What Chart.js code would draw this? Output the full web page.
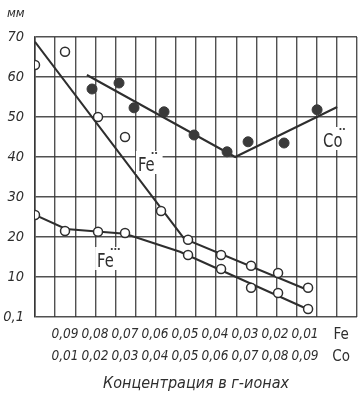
<!DOCTYPE html>
<html>
<head>
<meta charset="utf-8">
<script src="https://cdn.jsdelivr.net/npm/chart.js@4.4.0/dist/chart.umd.min.js"></script>
<style>
  body { margin: 0; background: #fff; }
  #wrap { width: 363px; height: 405px; }
</style>
</head>
<body>
<div id="wrap"><canvas id="chart" width="363" height="405"></canvas></div>
<script>
// x = Co concentration (g-ion), Fe = 0.1 - Co ; y = wave height, mm
const feIIx = [0, 0.010, 0.021, 0.030, 0.042, 0.051, 0.062, 0.072, 0.081, 0.091];
const feIIy = [63, 66.3, 50, 45, 26.5, 19.3, 15.5, 12.8, 11, 7.3];

const feIIIx = [0, 0.010, 0.021, 0.030, 0.051, 0.062, 0.072, 0.081, 0.091];
const feIIIy = [25.5, 21.5, 21.3, 21, 15.5, 12, 7.3, 6, 2];

const coIIx = [0.019, 0.028, 0.033, 0.043, 0.053, 0.064, 0.071, 0.083, 0.094];
const coIIy = [57, 58.5, 52.3, 51.3, 45.5, 41.3, 43.8, 43.5, 51.8];

// hand drawn trend lines
const feIILineX = [0, 0.0497, 0.0917];
const feIILineY = [68.8, 19.6, 6.5];
const feIIILineX = [0, 0.0103, 0.030, 0.0483, 0.0907];
const feIIILineY = [25.5, 22, 20.8, 16.3, 2];
const coIILineX = [0.0173, 0.0667, 0.1007];
const coIILineY = [60.5, 40, 52.5];

// axis labels
const tickCo = [0.01, 0.02, 0.03, 0.04, 0.05, 0.06, 0.07, 0.08, 0.09];
const feLabels = ["0,09", "0,08", "0,07", "0,06", "0,05", "0,04", "0,03", "0,02", "0,01"];
const coLabels = ["0,01", "0,02", "0,03", "0,04", "0,05", "0,06", "0,07", "0,08", "0,09"];
const yLabels = ["0,1", "10", "20", "30", "40", "50", "60", "70"];
const unitTickAt = 0.102;

const ink = "#2e2e2e";
const gridColor = "rgba(50,50,50,0.85)";
const narrow = '"Liberation Sans Narrow", "DejaVu Sans Condensed", "Liberation Sans", sans-serif';
Chart.defaults.font.family = narrow;
Chart.defaults.color = ink;

const pts = (xs, ys) => xs.map((v, i) => ({ x: v, y: ys[i] }));

const openDot = {
  showLine: false,
  pointRadius: 4.5,
  pointBackgroundColor: "#fff",
  pointBorderColor: ink,
  pointBorderWidth: 1.5,
};
const trend = {
  showLine: true,
  pointRadius: 0,
  borderColor: ink,
  borderWidth: 2,
  tension: 0,
};

// curve labels, drawn on a white patch like on the paper
const curveNotes = {
  id: "curveNotes",
  afterDatasetsDraw(chart) {
    const { ctx, scales: { x, y } } = chart;
    const items = [
      { text: "Fe", dots: 2, at: [0.0343, 36.5] },
      { text: "Fe", dots: 3, at: [0.0207, 12.5] },
      { text: "Co", dots: 2, at: [0.096, 42.5] },
    ];
    ctx.save();
    ctx.font = "20px " + narrow;
    ctx.textBaseline = "alphabetic";
    const sx = 0.82;
    items.forEach((it) => {
      const px = x.getPixelForValue(it.at[0]);
      const py = y.getPixelForValue(it.at[1]);
      const w = ctx.measureText(it.text).width * sx;
      ctx.fillStyle = "#fff";
      ctx.fillRect(px - 2, py - 20, w + it.dots * 3.5 + 3, 23);
      ctx.fillStyle = ink;
      ctx.save();
      ctx.translate(px, py);
      ctx.scale(sx, 1);
      ctx.fillText(it.text, 0, 0);
      ctx.restore();
      for (let k = 0; k < it.dots; k++) {
        ctx.beginPath();
        ctx.arc(px + w - 2 + k * 3.5, py - 18, 1.1, 0, Math.PI * 2);
        ctx.fill();
      }
    });
    ctx.font = "italic 13px " + narrow;
    ctx.fillText("мм", 7, 17);
    ctx.restore();
  },
};

new Chart(document.getElementById("chart"), {
  type: "scatter",
  data: {
    datasets: [
      Object.assign({ label: "Fe··", data: pts(feIIx, feIIy) }, openDot),
      Object.assign({ label: "Fe···", data: pts(feIIIx, feIIIy) }, openDot),
      {
        label: "Co··",
        data: pts(coIIx, coIIy),
        showLine: false,
        pointRadius: 5,
        pointBackgroundColor: "#3a3a3a",
        pointBorderColor: "#3a3a3a",
      },
      Object.assign({ label: "Fe·· line", data: pts(feIILineX, feIILineY) }, trend),
      Object.assign({ label: "Fe··· line", data: pts(feIIILineX, feIIILineY) }, trend),
      Object.assign({ label: "Co·· line", data: pts(coIILineX, coIILineY) }, trend),
    ],
  },
  options: {
    responsive: false,
    animation: false,
    layout: { padding: { left: 0, top: 37, right: 6, bottom: 0 } },
    plugins: {
      legend: { display: false },
      tooltip: { enabled: false },
    },
    scales: {
      x: {
        type: "linear",
        position: "bottom",
        min: 0,
        max: 0.1073,
        afterBuildTicks(s) {
          s.ticks = tickCo.concat([unitTickAt]).map((v) => ({ value: v }));
        },
        afterFit(s) {
          s.height = 88;
        },
        ticks: {
          autoSkip: false,
          maxRotation: 0,
          padding: -1,
          color: ink,
          font: (c) =>
            c.index === tickCo.length
              ? { size: 15, style: "normal", lineHeight: 1.45 }
              : { size: 13.5, style: "italic", lineHeight: 1.6 },
          callback: (v, i) => (i < tickCo.length ? [feLabels[i], coLabels[i]] : ["Fe", "Co"]),
        },
        grid: { display: false },
        border: { display: false },
        title: {
          display: true,
          text: "Концентрация в г-ионах",
          color: ink,
          font: { size: 16, style: "italic" },
          padding: { top: 0, bottom: 12 },
        },
      },
      xGrid: {
        type: "linear",
        position: "top",
        min: 0,
        max: 16,
        afterFit(s) {
          s.height = 0;
        },
        ticks: { display: false, stepSize: 1 },
        grid: { color: gridColor, lineWidth: 1.4, drawTicks: false },
        border: { display: false },
      },
      y: {
        min: 0,
        max: 70,
        afterFit(s) {
          s.width = 35;
        },
        ticks: {
          stepSize: 5,
          padding: 11,
          color: ink,
          font: { size: 14.5, style: "italic" },
          callback: (v) => (v % 10 === 0 ? yLabels[v / 10] : ""),
        },
        grid: { color: gridColor, lineWidth: 1.4, drawTicks: false },
        border: { color: gridColor, width: 1.6 },
      },
    },
  },
  plugins: [curveNotes],
});
</script>
</body>
</html>
